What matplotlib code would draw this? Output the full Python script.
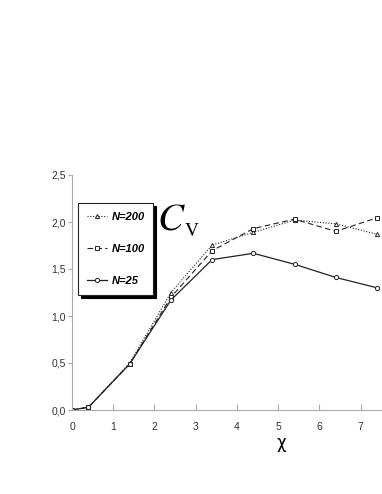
import matplotlib.pyplot as plt
from matplotlib.ticker import FuncFormatter

plt.rcParams['mathtext.fontset'] = 'stix'

# Cv against chi for three system sizes
chi = [0, 0.4, 1.4, 2.4, 3.4, 4.4, 5.4, 6.4, 7.4]
cv_n200 = [0.0, 0.03, 0.50, 1.25, 1.755, 1.89, 2.02, 1.98, 1.87]
cv_n100 = [0.0, 0.03, 0.49, 1.20, 1.695, 1.93, 2.03, 1.90, 2.045]
cv_n25 = [0.0, 0.03, 0.49, 1.17, 1.60, 1.667, 1.55, 1.41, 1.30]

fig = plt.figure(figsize=(3.82, 4.94), dpi=100)
ax = fig.add_axes([72 / 382, 1 - 410 / 494, 1 - 72 / 382, (410 - 175) / 494])

ax.plot(chi, cv_n200, linestyle=(0, (1, 1.5)), color='#222222', lw=0.8,
        marker='^', ms=3, mfc='white', mec='#222222', mew=0.7, label='N=200')
ax.plot(chi, cv_n100, linestyle=(0, (5, 3)), color='#222222', lw=0.8,
        marker='s', ms=3, mfc='white', mec='#222222', mew=0.7, label='N=100')
ax.plot(chi, cv_n25, linestyle='-', color='#222222', lw=0.9,
        marker='o', ms=3, mfc='white', mec='#222222', mew=0.7, label='N=25')

ax.set_xlim(0, 7.52)
ax.set_ylim(0, 2.5)
ax.set_xticks(range(8))
ax.set_yticks([0, 0.5, 1.0, 1.5, 2.0, 2.5])
ax.yaxis.set_major_formatter(FuncFormatter(lambda v, p: f'{v:.1f}'.replace('.', ',')))

for s in ['top', 'right']:
    ax.spines[s].set_visible(False)
for s in ['left', 'bottom']:
    ax.spines[s].set_color('#aaaaaa')
    ax.spines[s].set_linewidth(0.8)
ax.tick_params(axis='x', direction='in', length=4, color='#aaaaaa', labelsize=7.5,
               labelcolor='#333333', pad=9)
ax.tick_params(axis='y', direction='out', length=3, color='#aaaaaa', labelsize=7.5,
               labelcolor='#333333', pad=1.5)
for lbl in ax.get_xticklabels() + ax.get_yticklabels():
    lbl.set_family('Liberation Sans')

leg = ax.legend(loc='upper left', bbox_to_anchor=(6 / 310, 1 - 28 / 235),
                borderaxespad=0, frameon=True, fancybox=False,
                shadow={'color': 'black', 'alpha': 1},
                handlelength=1.8, labelspacing=2.0, borderpad=0.8,
                handletextpad=0.4,
                prop={'family': 'Liberation Sans', 'weight': 'bold',
                      'style': 'italic', 'size': 8})
leg.get_frame().set_edgecolor('#222222')
leg.get_frame().set_linewidth(0.8)

fig.text(157 / 382, 1 - 229 / 494, r'$\mathit{C}$', fontsize=28, color='black')
fig.text(184 / 382, 1 - 236 / 494, r'$\mathrm{V}$', fontsize=14, color='black')
fig.text(281 / 382, 1 - 434 / 494, 'χ', family='DejaVu Sans', fontsize=12,
         color='black', ha='center', va='top')

fig.savefig('out.png', dpi=100)
